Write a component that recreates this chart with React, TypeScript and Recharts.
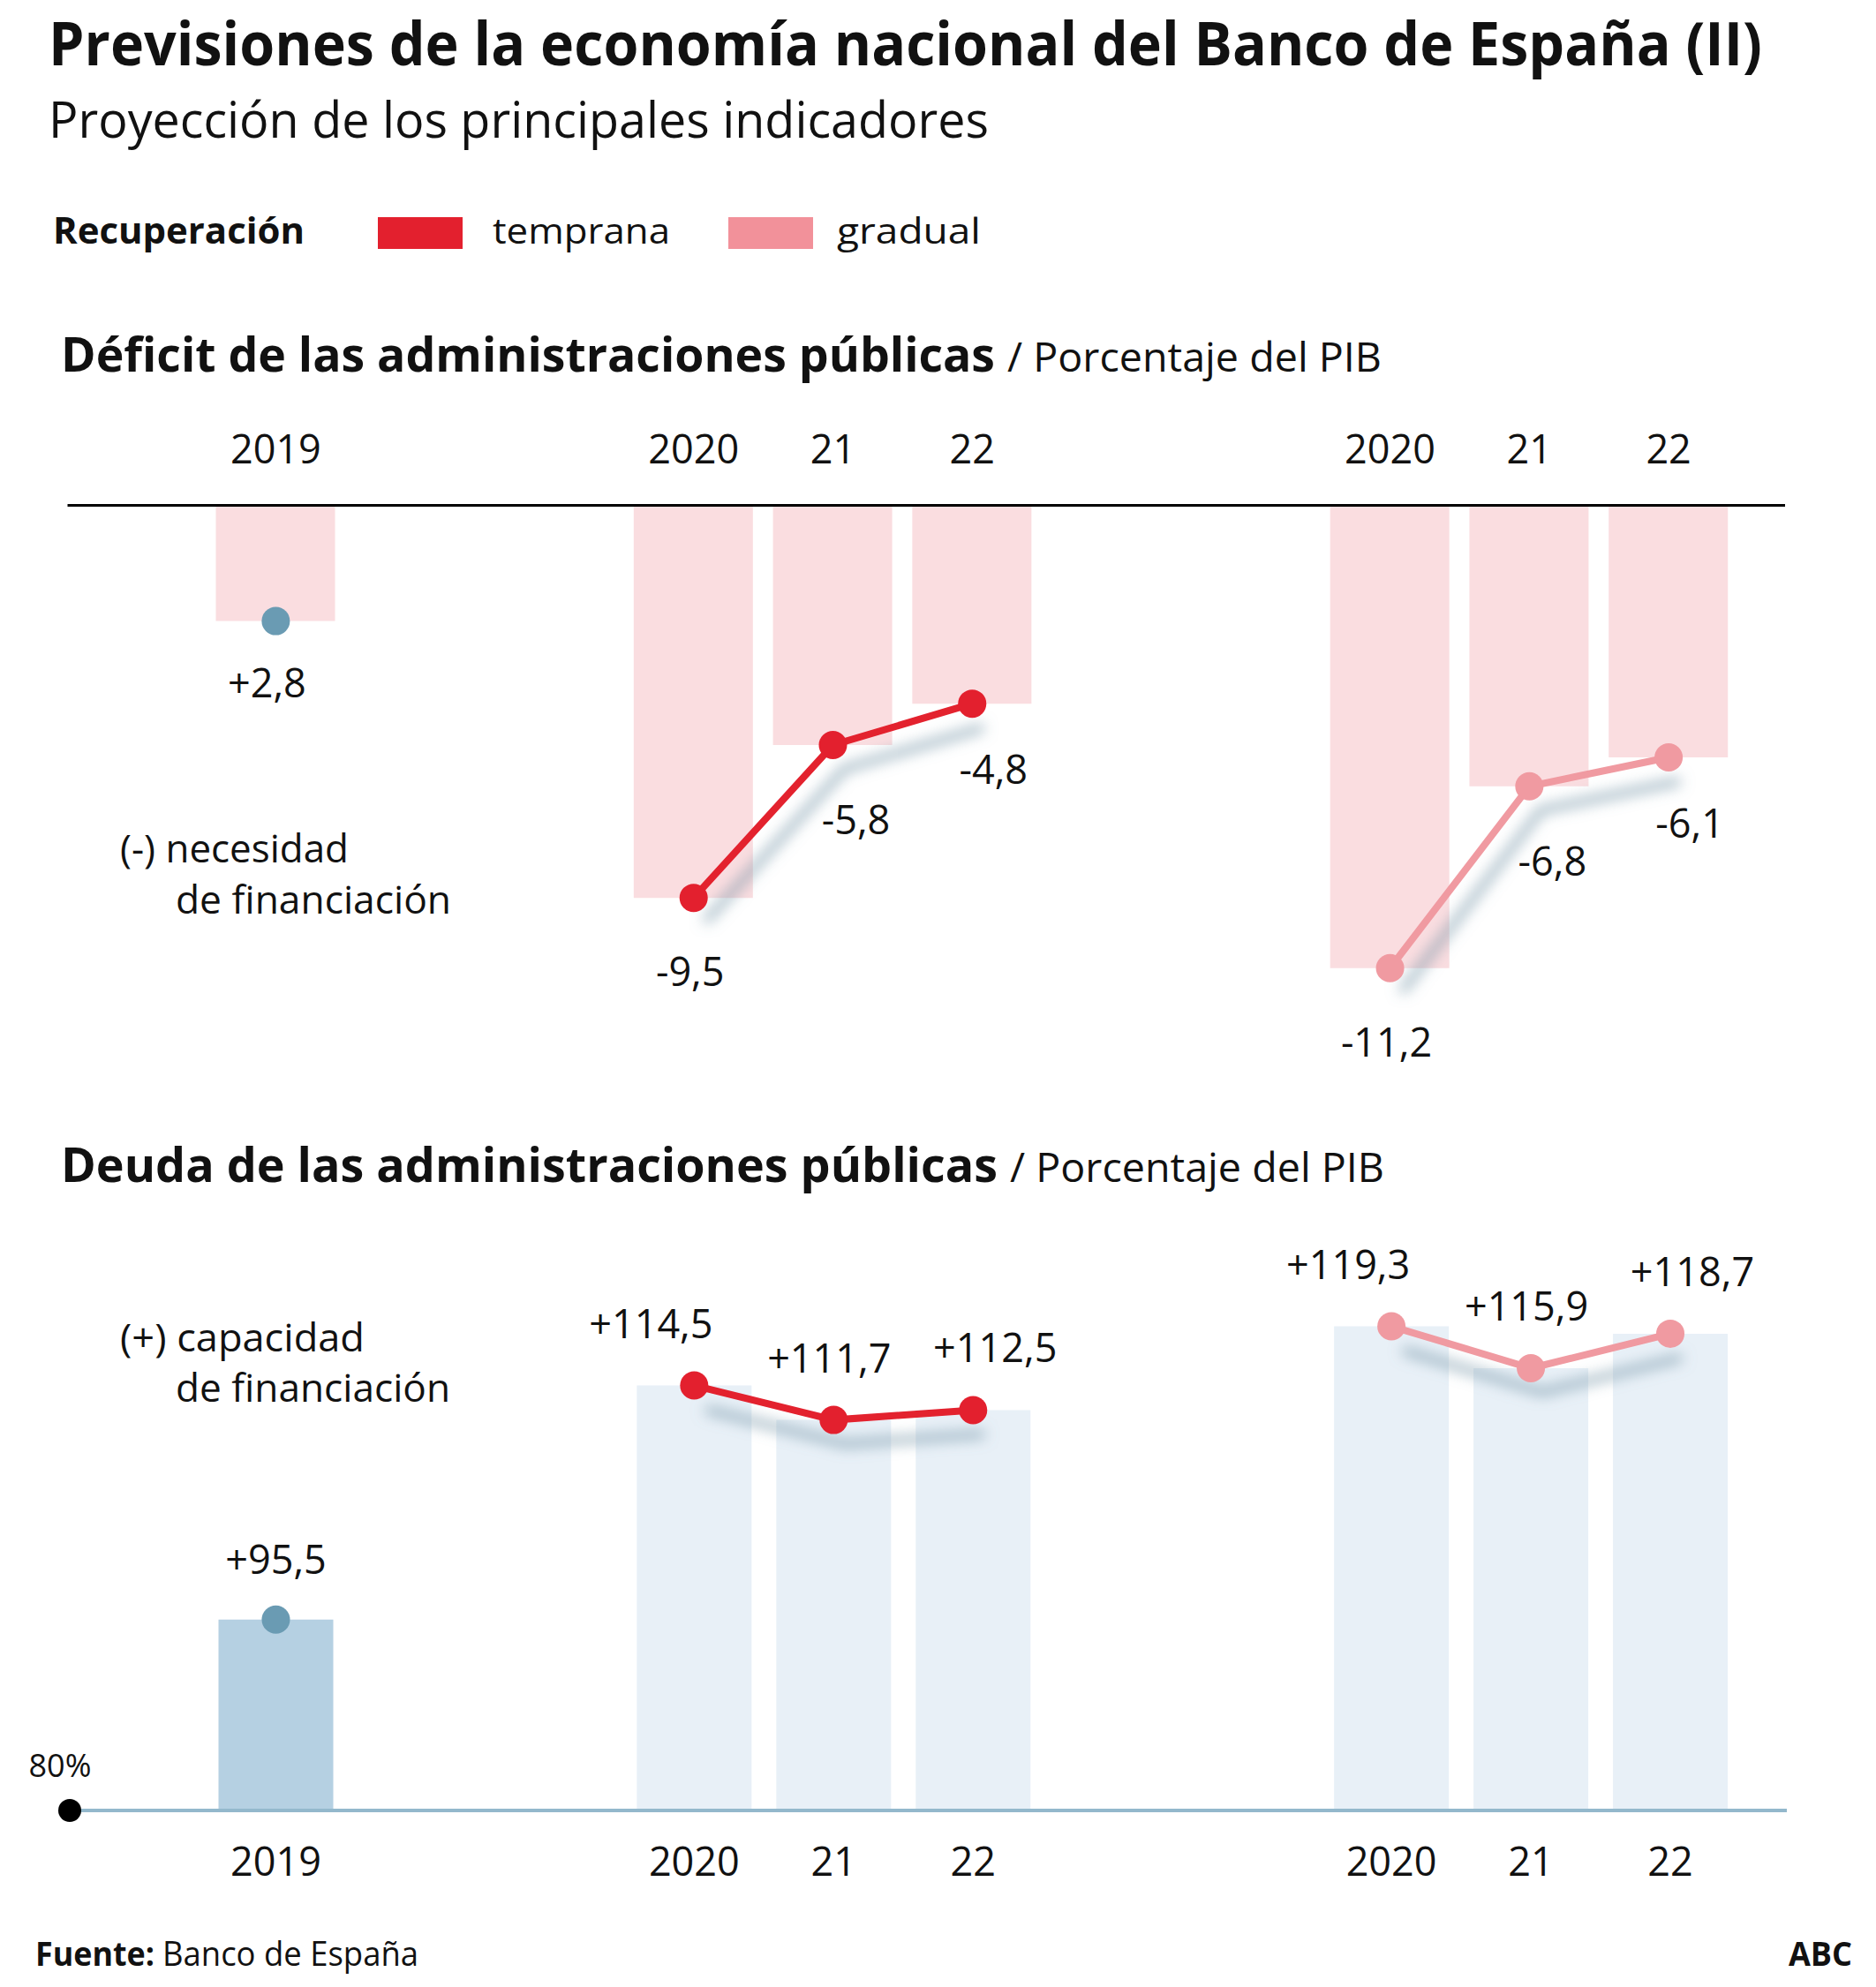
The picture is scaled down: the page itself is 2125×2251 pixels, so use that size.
import React from "react";
import { Bar, Cell, ComposedChart, LabelList, Line, XAxis, YAxis } from "recharts";

// categories, scenario of each bar and the values
const categories = ["2019", "2020", "21", "22", "2020", "21", "22"];
const scenarios = ["base", "temprana", "temprana", "temprana", "gradual", "gradual", "gradual"];
const deficit = [-2.8, -9.5, -5.8, -4.8, -11.2, -6.8, -6.1];
const deficitLabels = ["+2,8", "-9,5", "-5,8", "-4,8", "-11,2", "-6,8", "-6,1"];
const debt = [95.5, 114.5, 111.7, 112.5, 119.3, 115.9, 118.7];
const debtLabels = ["+95,5", "+114,5", "+111,7", "+112,5", "+119,3", "+115,9", "+118,7"];

const RED = "#e3202e";
const PINK = "#f09aa1";
const BAR_PINK = "#fadde0";
const BAR_BLUE = "#e8f0f7";
const BAR_BASE = "#b5d0e2";
const BASE_DOT = "#6a9bb3";
const INK = "#111";
const FONT = "'Open Sans', 'Noto Sans', sans-serif";

type Row = {
  key: string;
  label: string;
  scenario?: string;
  pos?: number;
  text?: string;
  value?: number | null;
  base?: number | null;
  temprana?: number | null;
  gradual?: number | null;
};

// two empty slots between the groups
function buildRows(values: number[], texts: string[]): Row[] {
  const rows: Row[] = [];
  values.forEach((v, i) => {
    const s = scenarios[i];
    if (i > 0 && s !== scenarios[i - 1]) {
      rows.push({ key: `gap${i}a`, label: "" }, { key: `gap${i}b`, label: "" });
    }
    const pos = scenarios.slice(0, i).filter((x) => x === s).length;
    rows.push({
      key: `c${i}`,
      label: categories[i],
      scenario: s,
      pos,
      text: texts[i],
      value: v,
      base: s === "base" ? v : null,
      temprana: s === "temprana" ? v : null,
      gradual: s === "gradual" ? v : null,
    });
  });
  return rows;
}

const deficitRows = buildRows(deficit, deficitLabels);
const debtRows = buildRows(debt, debtLabels);

const W = 2125;
const PAD = { left: 157, right: 53 };

const yearTick = (baseY: number, rows: Row[]) => (p: any) => {
  const row = rows.find((r) => r.key === p.payload.value);
  if (!row || !row.label) return <g />;
  return (
    <text x={p.x} y={baseY} textAnchor="middle" fontSize={45} fill={INK} fontFamily={FONT}>
      {row.label}
    </text>
  );
};

const deficitLabel = (p: any) => {
  const row = deficitRows[p.index];
  if (!row || row.value == null || p.y == null) return null;
  const base = row.scenario === "base";
  const dx = base ? -10 : [-4, 26, 24][row.pos ?? 0];
  const dy = base ? 86 : [100, 101, 91][row.pos ?? 0];
  return (
    <text x={p.x + dx} y={p.y + dy} textAnchor="middle" fontSize={45} fill={INK} fontFamily={FONT}>
      {row.text}
    </text>
  );
};

const debtLabel = (p: any) => {
  const row = debtRows[p.index];
  if (!row || row.value == null || p.y == null) return null;
  const base = row.scenario === "base";
  const dx = base ? 0 : [-49, -5, 25][row.pos ?? 0];
  const dy = base ? -52 : -54;
  return (
    <text x={p.x + dx} y={p.y + dy} textAnchor="middle" fontSize={45} fill={INK} fontFamily={FONT}>
      {row.text}
    </text>
  );
};

const originTick = (p: any) => (
  <g>
    <text x={68} y={p.y - 38} textAnchor="middle" fontSize={36} fill={INK} fontFamily={FONT}>
      80%
    </text>
    <circle cx={79} cy={p.y} r={13} fill="#000" />
  </g>
);

function DeficitChart() {
  return (
    <ComposedChart
      width={W}
      height={800}
      data={deficitRows}
      margin={{ top: 82.5, right: 103, bottom: 49, left: 76.5 }}
    >
      <XAxis
        dataKey="key"
        orientation="top"
        height={60}
        interval={0}
        padding={PAD}
        axisLine={{ stroke: "#000", strokeWidth: 3 }}
        tickLine={false}
        tickSize={0}
        tick={yearTick(95, deficitRows)}
      />
      <YAxis hide domain={[-13, 0]} />
      <Bar dataKey="value" fill={BAR_PINK} barSize={135} isAnimationActive={false} />
      <Line
        dataKey="base"
        stroke="none"
        dot={{ r: 16, fill: BASE_DOT, strokeWidth: 0 }}
        activeDot={false}
        isAnimationActive={false}
      />
      <Line
        className="shadowed"
        dataKey="temprana"
        stroke={RED}
        strokeWidth={8}
        dot={{ r: 16, fill: RED, strokeWidth: 0 }}
        activeDot={false}
        isAnimationActive={false}
      />
      <Line
        className="shadowed"
        dataKey="gradual"
        stroke={PINK}
        strokeWidth={8}
        dot={{ r: 16, fill: PINK, strokeWidth: 0 }}
        activeDot={false}
        isAnimationActive={false}
      />
      <Line dataKey="value" stroke="none" dot={false} activeDot={false} isAnimationActive={false}>
        <LabelList dataKey="text" content={deficitLabel} />
      </Line>
    </ComposedChart>
  );
}

function DebtChart() {
  return (
    <ComposedChart
      width={W}
      height={780}
      data={debtRows}
      margin={{ top: 43, right: 101, bottom: 19, left: 75.5 }}
    >
      <XAxis
        dataKey="key"
        height={90}
        interval={0}
        padding={PAD}
        axisLine={{ stroke: "#93b8cc", strokeWidth: 4 }}
        tickLine={false}
        tickSize={0}
        tick={yearTick(745, debtRows)}
      />
      <YAxis
        width={1}
        domain={[80, 125]}
        ticks={[80]}
        axisLine={false}
        tickLine={false}
        tickSize={0}
        tickMargin={0}
        tick={originTick}
      />
      <Bar dataKey="value" barSize={130} isAnimationActive={false}>
        {debtRows.map((r) => (
          <Cell key={r.key} fill={r.scenario === "base" ? BAR_BASE : BAR_BLUE} />
        ))}
      </Bar>
      <Line
        dataKey="base"
        stroke="none"
        dot={{ r: 16, fill: BASE_DOT, strokeWidth: 0 }}
        activeDot={false}
        isAnimationActive={false}
      />
      <Line
        className="shadowed"
        dataKey="temprana"
        stroke={RED}
        strokeWidth={8}
        dot={{ r: 16, fill: RED, strokeWidth: 0 }}
        activeDot={false}
        isAnimationActive={false}
      />
      <Line
        className="shadowed"
        dataKey="gradual"
        stroke={PINK}
        strokeWidth={8}
        dot={{ r: 16, fill: PINK, strokeWidth: 0 }}
        activeDot={false}
        isAnimationActive={false}
      />
      <Line dataKey="value" stroke="none" dot={false} activeDot={false} isAnimationActive={false}>
        <LabelList dataKey="text" content={debtLabel} />
      </Line>
    </ComposedChart>
  );
}

function T({ x, y, size, w, bold, children }: any) {
  return (
    <text
      x={x}
      y={y}
      fontSize={size}
      fontWeight={bold ? 700 : 400}
      textLength={w}
      lengthAdjust="spacingAndGlyphs"
      fill={INK}
    >
      {children}
    </text>
  );
}

export default function App() {
  return (
    <div
      style={{
        position: "absolute",
        left: 0,
        top: 0,
        width: W,
        height: 2251,
        background: "#fff",
        fontFamily: FONT,
        overflow: "hidden",
      }}
    >
      <style>{`.shadowed { filter: url(#lineShadow); }`}</style>
      <div style={{ position: "absolute", left: 0, top: 430 }}>
        <DeficitChart />
      </div>
      <div style={{ position: "absolute", left: 0, top: 1380 }}>
        <DebtChart />
      </div>
      <svg
        width={W}
        height={2251}
        style={{ position: "absolute", left: 0, top: 0, pointerEvents: "none", fontFamily: FONT }}
      >
        <defs>
          <filter id="lineShadow" filterUnits="userSpaceOnUse" x={-100} y={-100} width={2400} height={2400}>
            <feDropShadow dx={13} dy={27} stdDeviation={8} floodColor="#6f91a3" floodOpacity={0.75} />
          </filter>
        </defs>
        <T x={55} y={74} size={68} w={1941} bold>
          Previsiones de la economía nacional del Banco de España (II)
        </T>
        <T x={55} y={156} size={57} w={1065}>
          Proyección de los principales indicadores
        </T>

        <T x={60} y={276} size={41} w={285} bold>
          Recuperación
        </T>
        <rect x={428} y={246} width={96} height={36} fill={RED} />
        <T x={558} y={276} size={41} w={201}>
          temprana
        </T>
        <rect x={825} y={246} width={96} height={36} fill="#f2919a" />
        <T x={948} y={276} size={41} w={163}>
          gradual
        </T>

        <T x={69} y={421} size={54} w={1058} bold>
          Déficit de las administraciones públicas
        </T>
        <T x={1141} y={421} size={45} w={424}>
          / Porcentaje del PIB
        </T>
        <T x={136} y={977} size={44} w={259}>
          (-) necesidad
        </T>
        <T x={199} y={1035} size={44} w={312}>
          de financiación
        </T>

        <T x={69} y={1339} size={54} w={1061} bold>
          Deuda de las administraciones públicas
        </T>
        <T x={1144} y={1339} size={45} w={424}>
          / Porcentaje del PIB
        </T>
        <T x={136} y={1531} size={44} w={277}>
          (+) capacidad
        </T>
        <T x={199} y={1588} size={44} w={311}>
          de financiación
        </T>

        <T x={40} y={2227} size={38} w={135} bold>
          Fuente:
        </T>
        <T x={184} y={2227} size={38} w={290}>
          Banco de España
        </T>
        <T x={2026} y={2227} size={38} w={72} bold>
          ABC
        </T>
      </svg>
    </div>
  );
}
